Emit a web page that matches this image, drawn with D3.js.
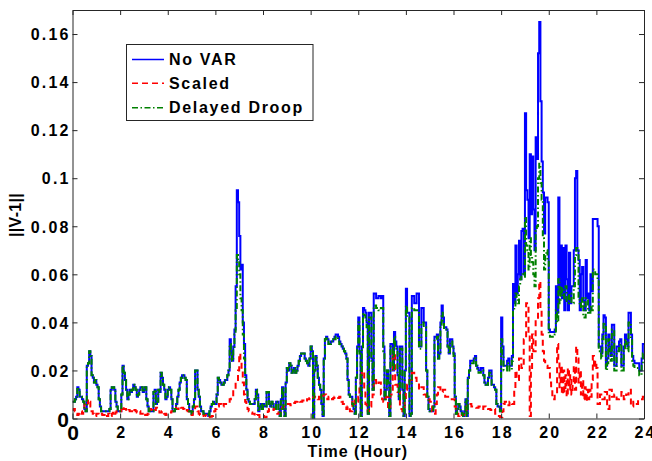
<!DOCTYPE html>
<html><head><meta charset="utf-8">
<script src="https://cdn.jsdelivr.net/npm/d3@7/dist/d3.min.js"></script>
<style>body{margin:0;background:#fff}svg{display:block}</style>
</head><body><svg id="c" width="652" height="461"></svg>
<script>
// ---- data (hour grid: one value every stepHours from 0 to 24; one row = one hour) ----
const stepHours = 0.05;
const xTickValues = [0,2,4,6,8,10,12,14,16,18,20,22,24];
const xTickLabels = ["0","2","4","6","8","10","12","14","16","18","20","22","24"];
const yTickValues = [0,0.02,0.04,0.06,0.08,0.1,0.12,0.14,0.16];
const yTickLabels = ["0","0.02","0.04","0.06","0.08","0.1","0.12","0.14","0.16"];
const seriesNames = ["No VAR","Scaled","Delayed Droop"];

const noVar = [
.007,.007,.008,.009,.013,.012,.009,.009,.008,.007,.004,.003,.022,.023,.028,.026,.018,.017,.015,.016,
.014,.013,.008,.005,.003,.003,.003,.003,.003,.003,.003,.004,.012,.013,.013,.012,.007,.005,.003,.003,
.003,.010,.022,.019,.016,.012,.008,.010,.012,.011,.012,.014,.013,.012,.009,.010,.012,.013,.013,.011,
.012,.013,.008,.005,.003,.003,.003,.003,.011,.012,.006,.007,.012,.011,.019,.017,.014,.012,.008,.009,
.012,.013,.012,.008,.003,.003,.004,.006,.009,.012,.015,.017,.018,.018,.017,.016,.008,.006,.003,.003,
.002,.005,.008,.020,.020,.012,.009,.005,.003,.003,.002,.002,.002,.002,.001,.003,.005,.006,.007,.006,
.006,.010,.017,.016,.015,.014,.014,.015,.016,.016,.018,.020,.033,.028,.024,.030,.037,.055,.095,.090,
.076,.062,.064,.040,.031,.018,.012,.008,.007,.006,.006,.006,.006,.008,.012,.010,.003,.005,.006,.004,
.006,.005,.005,.011,.011,.006,.005,.007,.006,.004,.004,.007,.007,.004,.001,.008,.013,.004,.001,.015,
.021,.020,.023,.022,.019,.020,.021,.019,.020,.022,.024,.026,.027,.027,.027,.025,.024,.023,.022,.025,
.030,.028,.000,.020,.026,.022,.017,.014,.012,.006,.001,.025,.033,.034,.033,.031,.031,.032,.032,.033,
.034,.035,.035,.034,.032,.031,.030,.029,.028,.027,.025,.016,.010,.009,.009,.006,.004,.002,.017,.030,
.042,.028,.001,.030,.046,.045,.044,.040,.002,.044,.044,.025,.012,.052,.052,.050,.050,.051,.051,.050,
.051,.030,.008,.012,.020,.015,.001,.031,.031,.020,.036,.032,.030,.018,.008,.030,.030,.012,.001,.020,
.054,.044,.044,.001,.002,.051,.051,.048,.048,.052,.052,.030,.030,.046,.046,.040,.040,.020,.009,.004,
.003,.003,.003,.005,.034,.034,.035,.025,.027,.040,.047,.042,.038,.038,.037,.030,.027,.033,.033,.030,
.027,.009,.002,.004,.006,.005,.003,.002,.001,.003,.008,.001,.017,.020,.024,.024,.024,.025,.026,.022,
.021,.020,.020,.021,.021,.018,.015,.014,.014,.017,.020,.020,.014,.014,.013,.012,.006,.005,.005,.003,
.042,.030,.022,.022,.022,.024,.025,.022,.022,.026,.056,.048,.072,.052,.060,.074,.058,.078,.079,.060,
.127,.095,.091,.075,.110,.085,.109,.087,.070,.117,.108,.152,.165,.132,.107,.094,.077,.092,.092,.090,
.037,.036,.036,.036,.036,.037,.055,.044,.092,.052,.072,.050,.071,.045,.072,.058,.045,.069,.048,.055,
.055,.070,.100,.103,.070,.066,.045,.060,.063,.049,.045,.066,.050,.052,.045,.060,.053,.083,.083,.083,
.083,.080,.030,.030,.027,.035,.043,.042,.022,.025,.035,.030,.026,.039,.039,.022,.022,.030,.030,.032,
.033,.022,.022,.030,.035,.033,.030,.044,.044,.035,.026,.024,.023,.023,.023,.023,.020,.020,.025,.031,
.031];

const scaled = [
.0035,.004,.003,.002,.0015,.002,.0025,.003,.002,.004,.006,.007,.0075,.006,.007,.005,.003,.002,.001,.001,
.002,.002,.0015,.002,.002,.0015,.0015,.002,.0015,.001,.002,.0015,.001,.002,.003,.002,.0025,.003,.003,.0025,
.003,.004,.005,.004,.004,.003,.003,.0035,.003,.003,.003,.0025,.0035,.003,.0025,.003,.003,.002,.002,.0025,
.002,.0015,.0015,.002,.003,.004,.0035,.003,.003,.0035,.0045,.004,.003,.0025,.0025,.003,.003,.002,.0015,.002,
.002,.0025,.0025,.003,.003,.004,.0045,.004,.004,.005,.005,.0045,.0045,.004,.003,.003,.0035,.003,.0025,.002,
.0015,.003,.003,.005,.005,.003,.002,.0015,.0015,.001,.0015,.0015,.001,.0005,.0005,.0007,.0007,.001,.002,.003,
.004,.005,.005,.006,.006,.005,.005,.006,.006,.006,.006,.007,.008,.009,.009,.012,.012,.015,.015,.020,
.027,.024,.020,.015,.010,.007,.005,.004,.003,.003,.0025,.002,.002,.001,.001,.0015,.0015,.0005,.0005,.001,
.001,.0005,.0005,.002,.003,.004,.004,.0035,.0035,.004,.004,.003,.002,.0025,.0025,.004,.0045,.005,.005,.005,
.006,.006,.006,.0055,.0055,.0065,.0065,.007,.007,.0075,.0075,.007,.007,.0075,.0075,.007,.007,.008,.008,.0085,
.009,.009,.0085,.009,.009,.0085,.008,.009,.010,.0095,.0095,.010,.010,.009,.008,.009,.009,.0085,.008,.0085,
.009,.009,.0085,.0085,.009,.008,.007,.006,.006,.005,.004,.005,.005,.003,.003,.008,.008,.006,.006,.007,
.009,.014,.018,.020,.020,.012,.006,.004,.003,.004,.005,.008,.010,.016,.016,.014,.014,.015,.015,.010,
.008,.007,.007,.009,.009,.004,.004,.010,.010,.027,.027,.014,.014,.011,.011,.004,.004,.003,.003,.008,
.012,.014,.014,.016,.016,.019,.019,.017,.017,.015,.015,.012,.012,.013,.013,.010,.010,.009,.009,.008,
.007,.005,.003,.002,.002,.006,.010,.013,.013,.011,.011,.012,.012,.009,.009,.009,.009,.008,.008,.008,
.008,.005,.003,.002,.001,.002,.002,.0015,.0015,.003,.003,.006,.006,.006,.006,.005,.005,.005,.005,.0045,
.0045,.005,.005,.004,.004,.005,.005,.0045,.0045,.004,.004,.0035,.0035,.004,.004,.002,.002,.001,.001,.0005,
.0005,.003,.006,.007,.007,.0055,.0055,.007,.007,.006,.006,.012,.020,.016,.016,.025,.025,.021,.021,.033,
.033,.048,.048,.035,.001,.020,.035,.028,.028,.041,.041,.050,.057,.045,.035,.028,.024,.022,.022,.021,
.021,.015,.012,.008,.008,.010,.010,.031,.024,.013,.022,.010,.020,.011,.018,.009,.021,.012,.018,.010,
.014,.022,.012,.030,.025,.015,.020,.010,.016,.008,.013,.007,.012,.008,.012,.009,.016,.026,.021,.024,
.021,.006,.006,.010,.010,.008,.008,.011,.011,.004,.004,.012,.012,.009,.009,.010,.010,.008,.008,.009,
.009,.011,.011,.008,.008,.010,.010,.012,.012,.005,.005,.007,.007,.006,.006,.008,.008,.008,.008,.009,
.009];

const delayedDroop = [
.007,.007,.008,.009,.013,.012,.009,.009,.008,.007,.004,.003,.022,.023,.028,.026,.018,.017,.015,.016,
.014,.013,.008,.005,.003,.003,.003,.003,.003,.003,.003,.004,.012,.013,.013,.012,.007,.005,.003,.003,
.003,.010,.022,.019,.016,.012,.008,.010,.012,.011,.012,.014,.013,.012,.009,.010,.012,.013,.013,.011,
.012,.013,.008,.005,.003,.003,.003,.003,.011,.012,.006,.007,.012,.011,.019,.017,.014,.012,.008,.009,
.012,.013,.012,.008,.003,.003,.004,.006,.009,.012,.015,.017,.018,.018,.017,.016,.008,.006,.003,.003,
.002,.005,.008,.020,.020,.012,.009,.005,.003,.003,.002,.002,.002,.002,.001,.003,.005,.006,.007,.006,
.006,.010,.017,.016,.015,.014,.014,.015,.016,.016,.018,.020,.031,.027,.024,.029,.035,.045,.068,.066,
.060,.050,.045,.035,.025,.016,.012,.008,.007,.006,.006,.006,.006,.008,.012,.010,.003,.005,.006,.004,
.006,.005,.005,.011,.011,.006,.005,.007,.006,.004,.004,.007,.007,.004,.001,.008,.013,.004,.001,.015,
.021,.020,.023,.022,.019,.020,.021,.019,.020,.022,.024,.026,.027,.027,.027,.025,.024,.023,.022,.025,
.030,.028,.000,.020,.026,.022,.017,.014,.012,.006,.001,.025,.033,.034,.033,.031,.031,.032,.032,.033,
.033,.034,.034,.033,.031,.030,.030,.029,.028,.027,.025,.016,.010,.009,.009,.006,.004,.002,.017,.029,
.040,.027,.001,.029,.044,.043,.042,.038,.002,.042,.042,.024,.012,.047,.047,.046,.046,.045,.045,.046,
.046,.028,.008,.012,.020,.015,.001,.030,.030,.020,.034,.030,.029,.018,.008,.029,.029,.012,.001,.020,
.047,.042,.042,.001,.002,.046,.046,.045,.045,.045,.045,.029,.029,.040,.040,.038,.038,.020,.009,.004,
.003,.003,.003,.005,.033,.033,.034,.025,.027,.039,.044,.040,.037,.037,.036,.030,.027,.032,.032,.030,
.026,.009,.002,.004,.006,.005,.003,.002,.001,.003,.008,.001,.017,.020,.023,.023,.023,.024,.025,.022,
.020,.019,.019,.020,.020,.018,.015,.014,.014,.017,.019,.019,.014,.014,.013,.012,.006,.005,.005,.003,
.033,.026,.020,.020,.020,.022,.023,.020,.020,.024,.045,.047,.052,.050,.048,.055,.058,.059,.060,.059,
.084,.072,.070,.062,.075,.068,.065,.060,.055,.078,.080,.100,.106,.098,.091,.075,.062,.068,.070,.066,
.035,.034,.034,.034,.034,.035,.045,.040,.058,.048,.055,.052,.050,.054,.055,.048,.048,.052,.052,.048,
.048,.055,.068,.071,.071,.050,.048,.046,.050,.042,.042,.050,.050,.044,.044,.047,.045,.062,.062,.060,
.060,.058,.028,.028,.025,.033,.040,.039,.020,.023,.033,.028,.024,.037,.037,.020,.020,.028,.028,.030,
.031,.020,.020,.028,.033,.031,.028,.040,.040,.033,.024,.022,.021,.021,.021,.021,.018,.018,.022,.027,
.027];

const colors = ["#0000ff","#ff0000","#008000"];
const dashes = [null,"6,4","6,2.5,1.5,2.5"];

// ---- layout ----
const svg = d3.select("#c");
const L = 72.5, R = 644, T = 10, B = 418.5;
const x = d3.scaleLinear().domain([0,24]).range([L,R]);
const y = d3.scaleLinear().domain([0,0.17]).range([B,T]);
const FONT = "'Liberation Sans', Arial, Helvetica, sans-serif";
const axisColor = "#262626";

svg.append("rect").attr("x",L).attr("y",T).attr("width",R-L).attr("height",B-T).attr("fill","#fff");
svg.append("defs").append("clipPath").attr("id","clip")
  .append("rect").attr("x",L).attr("y",T).attr("width",R-L).attr("height",B-T);

const line = d3.line()
  .x((d,i)=>x(i*stepHours))
  .y(d=>y(d))
  .curve(d3.curveStepAfter);

const plot = svg.append("g").attr("clip-path","url(#clip)");
[noVar, scaled, delayedDroop].forEach((s,k)=>{
  plot.append("path").datum(s)
    .attr("d",line)
    .attr("fill","none")
    .attr("stroke",colors[k])
    .attr("stroke-width",2)
    .attr("stroke-linejoin","miter")
    .attr("stroke-dasharray",dashes[k]);
});

// axes (ticks pointing inward on all four sides)
function styleAxis(g){
  g.selectAll("path.domain").attr("stroke",axisColor).attr("stroke-width",1);
  g.selectAll(".tick line").attr("stroke",axisColor).attr("stroke-width",1);
}
const LS = 2.2;
const ZERO_SIZE = "21px";
const gx = svg.append("g").attr("transform",`translate(0,${B})`)
  .call(d3.axisBottom(x).tickValues(xTickValues).tickSizeInner(-5).tickSizeOuter(0)
    .tickFormat((d,i)=>xTickLabels[i]));
styleAxis(gx);
gx.selectAll(".tick text")
  .attr("y",null).attr("dy",null)
  .attr("y",(d)=> d===0 ? 21.3 : 19.8)
  .attr("dx",(d)=> d===0 ? 0 : LS/2)
  .attr("fill","#000")
  .style("font-family",FONT).style("font-weight","bold")
  .style("font-size",(d)=> d===0 ? ZERO_SIZE : "16px")
  .style("letter-spacing",(d)=> d===0 ? "0px" : LS+"px");

const gy = svg.append("g").attr("transform",`translate(${L},0)`)
  .call(d3.axisLeft(y).tickValues(yTickValues).tickSizeInner(-5).tickSizeOuter(0)
    .tickFormat((d,i)=>yTickLabels[i]));
styleAxis(gy);
gy.selectAll(".tick text")
  .attr("x",(d)=> d===0 ? -3.5 : -4+LS)
  .attr("dy","0.36em")
  .attr("fill","#000")
  .style("font-family",FONT).style("font-weight","bold")
  .style("font-size",(d)=> d===0 ? ZERO_SIZE : "16px")
  .style("letter-spacing",(d)=> d===0 ? "0px" : LS+"px");

const gt = svg.append("g").attr("transform",`translate(0,${T})`)
  .call(d3.axisTop(x).tickValues(xTickValues).tickSizeInner(-5).tickSizeOuter(0).tickFormat(""));
styleAxis(gt);
const gr = svg.append("g").attr("transform",`translate(${R},0)`)
  .call(d3.axisRight(y).tickValues(yTickValues).tickSizeInner(-5).tickSizeOuter(0).tickFormat(""));
styleAxis(gr);

// axis titles
svg.append("text").attr("x",357.8).attr("y",456.5).attr("text-anchor","middle")
  .style("font-family",FONT).style("font-weight","bold").style("font-size","16px")
  .style("letter-spacing","1px").text("Time (Hour)");
svg.append("text").attr("transform","translate(20.5,215) rotate(-90)").attr("text-anchor","middle")
  .style("font-family",FONT).style("font-weight","bold").style("font-size","16px")
  .style("letter-spacing","0.3px").text("||V-1||");

// legend
const lg = svg.append("g");
lg.append("rect").attr("x",126.5).attr("y",44.5).attr("width",186.5).attr("height",76)
  .attr("fill","#fff").attr("stroke",axisColor).attr("stroke-width",1);
const rowsY = [59.5,83.3,107.7];
seriesNames.forEach((n,k)=>{
  lg.append("line").attr("x1",132).attr("x2",164).attr("y1",rowsY[k]).attr("y2",rowsY[k])
    .attr("stroke",colors[k]).attr("stroke-width",1.5).attr("stroke-dasharray",dashes[k]);
  lg.append("text").attr("x",169).attr("y",rowsY[k]).attr("dy","0.36em")
    .style("font-family",FONT).style("font-weight","bold").style("font-size","16px")
    .style("letter-spacing","1.7px").text(n);
});
</script>
</body></html>
